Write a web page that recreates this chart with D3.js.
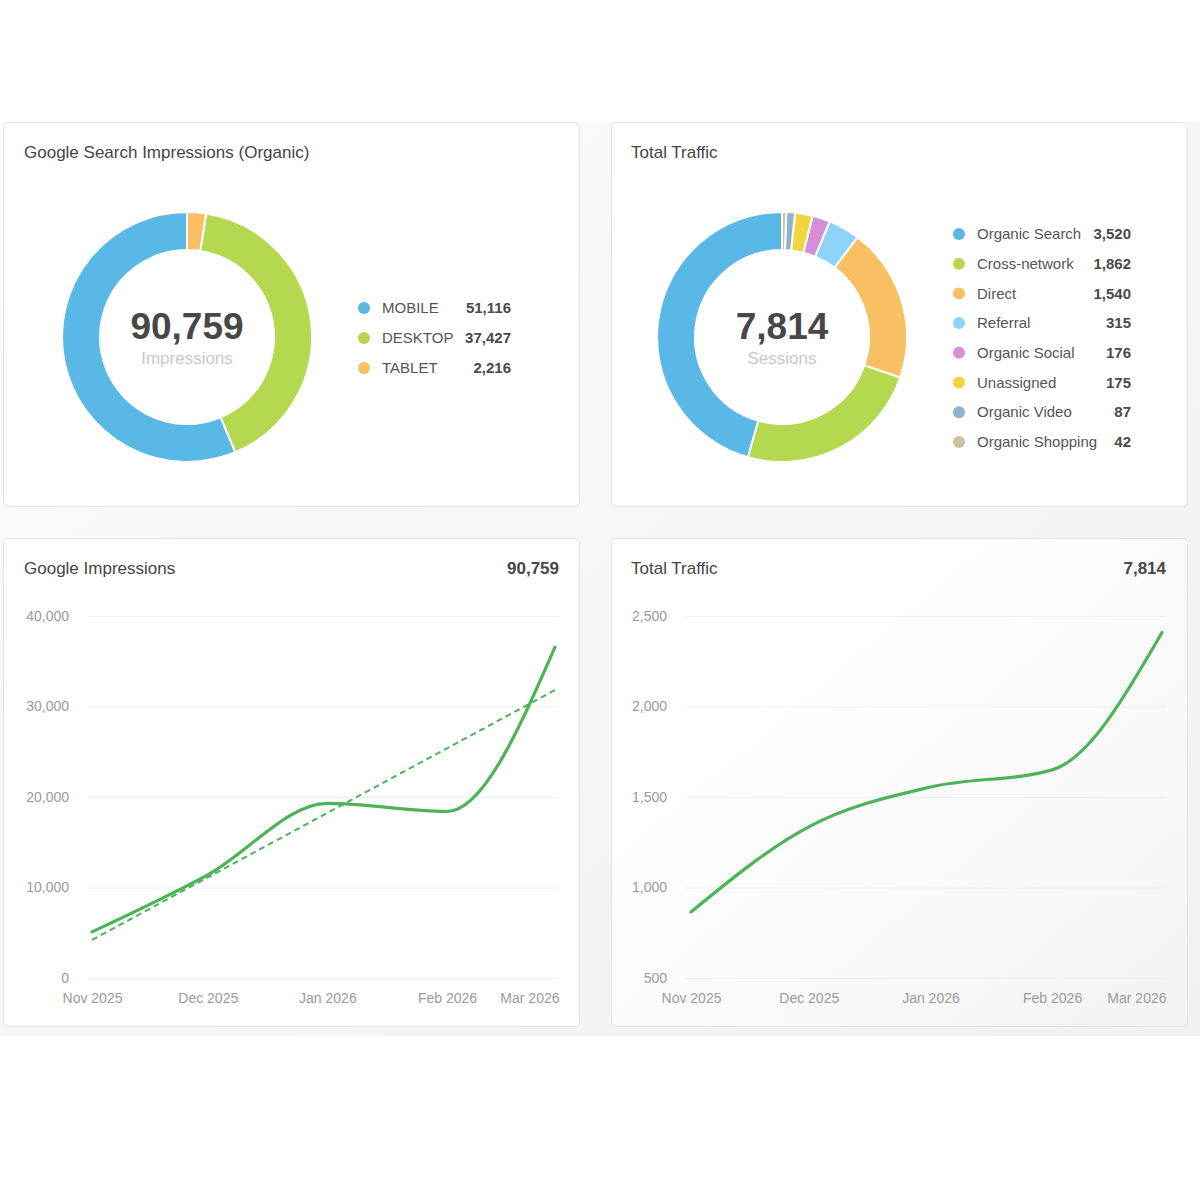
<!DOCTYPE html>
<html>
<head>
<meta charset="utf-8">
<script src="https://cdn.jsdelivr.net/npm/d3@7"></script>
<style>
  body { margin: 0; background: #fff; font-family: "Liberation Sans", Arial, sans-serif; }
  svg text { font-family: "Liberation Sans", Arial, sans-serif; }
</style>
</head>
<body>
<div id="chart"></div>
<script>
// device split (Google Search Impressions, organic)
const deviceNames = ["MOBILE", "DESKTOP", "TABLET"];
const deviceValues = [51116, 37427, 2216];
const deviceColors = ["#5ab8e6", "#b4d951", "#f8bf63"];
const totalImpressions = 90759;

// traffic channels
const channelNames = ["Organic Search", "Cross-network", "Direct", "Referral", "Organic Social", "Unassigned", "Organic Video", "Organic Shopping"];
const channelValues = [3520, 1862, 1540, 315, 176, 175, 87, 42];
const channelColors = ["#5ab8e6", "#b4d951", "#f8bf63", "#8dd3fa", "#d68fd6", "#f2d43f", "#8fb4c9", "#cdc1a3"];
const totalSessions = 7814; // channels don't add up to the reported total

// monthly series
const months = ["2025-11-01", "2025-12-01", "2026-01-01", "2026-02-01", "2026-03-01"];
const monthLabels = ["Nov 2025", "Dec 2025", "Jan 2026", "Feb 2026", "Mar 2026"];
const impressions = [5100, 11400, 19300, 18400, 36559];
const sessions = [865, 1335, 1555, 1650, 2409];
const impressionTicks = [0, 10000, 20000, 30000, 40000];
const sessionTicks = [500, 1000, 1500, 2000, 2500];

const fmt = d3.format(",");
const parseDate = d3.timeParse("%Y-%m-%d");

const svg = d3.select("#chart").append("svg")
    .attr("width", 1200)
    .attr("height", 1200);

const defs = svg.append("defs");
const bg = defs.append("linearGradient")
    .attr("id", "bg-grad")
    .attr("x1", "0%").attr("y1", "0%")
    .attr("x2", "100%").attr("y2", "100%");
bg.append("stop").attr("offset", "0%").attr("stop-color", "#fcfcfd");
bg.append("stop").attr("offset", "100%").attr("stop-color", "#f1f1f3");

const cardGrad = defs.append("linearGradient")
    .attr("id", "card-grad")
    .attr("x1", "30%").attr("y1", "30%")
    .attr("x2", "100%").attr("y2", "100%");
cardGrad.append("stop").attr("offset", "0%").attr("stop-color", "#ffffff");
cardGrad.append("stop").attr("offset", "100%").attr("stop-color", "#f3f3f5");

svg.append("rect")
    .attr("x", 0).attr("y", 122)
    .attr("width", 1200).attr("height", 914)
    .attr("fill", "url(#bg-grad)");

function card(x, y, w, h, fill) {
    svg.append("rect")
        .attr("x", x + 0.5).attr("y", y + 0.5)
        .attr("width", w).attr("height", h)
        .attr("rx", 5)
        .attr("fill", fill || "#fff")
        .attr("stroke", "#e4e4e6");
}

card(3, 122, 576, 384);
card(611, 122, 576, 384);
card(3, 538, 576, 488);
card(611, 538, 576, 488, "url(#card-grad)");

function title(x, y, txt) {
    svg.append("text")
        .attr("x", x).attr("y", y)
        .attr("font-size", 17)
        .attr("fill", "#454545")
        .text(txt);
}

// --- donuts ---
function donut(cx, cy, names, values, colors, total, centerLabel, legendX, legendY, valueX, rowH) {
    const pie = d3.pie().sort(null).startAngle(0).endAngle(-2 * Math.PI);
    const arc = d3.arc().innerRadius(87).outerRadius(125);

    const g = svg.append("g").attr("transform", `translate(${cx}, ${cy})`);
    g.selectAll("path")
        .data(pie(values))
        .join("path")
        .attr("d", arc)
        .attr("fill", (d, i) => colors[i])
        .attr("stroke", "#fff")
        .attr("stroke-width", 2);

    g.append("text")
        .attr("text-anchor", "middle")
        .attr("y", 2)
        .attr("font-size", 37)
        .attr("font-weight", "bold")
        .attr("fill", "#474747")
        .text(fmt(total));
    g.append("text")
        .attr("text-anchor", "middle")
        .attr("y", 27)
        .attr("font-size", 17)
        .attr("fill", "#c8c8c8")
        .text(centerLabel);

    const leg = svg.append("g");
    const rows = leg.selectAll("g")
        .data(names)
        .join("g")
        .attr("transform", (d, i) => `translate(0, ${legendY + i * rowH})`);
    rows.append("circle")
        .attr("cx", legendX).attr("cy", 0).attr("r", 6)
        .attr("fill", (d, i) => colors[i]);
    rows.append("text")
        .attr("x", legendX + 18).attr("dy", "0.35em")
        .attr("font-size", 15)
        .attr("fill", "#555")
        .text(d => d);
    rows.append("text")
        .attr("x", valueX).attr("dy", "0.35em")
        .attr("text-anchor", "end")
        .attr("font-size", 15)
        .attr("font-weight", "bold")
        .attr("fill", "#4a4a4a")
        .text((d, i) => fmt(values[i]));
}

title(24, 158, "Google Search Impressions (Organic)");
donut(187, 337, deviceNames, deviceValues, deviceColors, totalImpressions, "Impressions", 364, 308, 511, 30);

title(631, 158, "Total Traffic");
donut(782, 337, channelNames, channelValues, channelColors, totalSessions, "Sessions", 959, 234, 1131, 29.7);

// --- line charts ---
function lineChart(opts) {
    const dates = months.map(parseDate);
    const data = dates.map((d, i) => ({ date: d, value: opts.values[i] }));

    const x = d3.scaleTime()
        .domain(d3.extent(dates))
        .range([opts.x0, opts.x1]);
    const y = d3.scaleLinear()
        .domain(d3.extent(opts.ticks))
        .range([978, 616]);

    title(opts.titleX, 574, opts.title);
    svg.append("text")
        .attr("x", opts.gridR).attr("y", 574)
        .attr("text-anchor", "end")
        .attr("font-size", 17)
        .attr("font-weight", "bold")
        .attr("fill", "#474747")
        .text(fmt(d3.sum(opts.values)));

    // y axis + grid
    const yAxis = svg.append("g")
        .attr("transform", `translate(${opts.gridL}, 0)`)
        .call(d3.axisLeft(y)
            .tickValues(opts.ticks)
            .tickSize(-(opts.gridR - opts.gridL))
            .tickPadding(19)
            .tickFormat(fmt));
    yAxis.select(".domain").remove();
    yAxis.selectAll(".tick line").attr("stroke", "#f0f0f1");
    yAxis.selectAll(".tick text")
        .attr("font-size", 14)
        .attr("fill", "#9a9a9a");

    // x axis labels
    const xAxis = svg.append("g")
        .attr("transform", `translate(0, 978)`)
        .call(d3.axisBottom(x)
            .tickValues(dates)
            .tickSize(0)
            .tickPadding(15)
            .tickFormat((d, i) => monthLabels[i]));
    xAxis.select(".domain").remove();
    xAxis.selectAll(".tick text")
        .attr("font-size", 14)
        .attr("fill", "#9a9a9a");
    xAxis.selectAll(".tick text")
        .filter((d, i) => i === dates.length - 1)
        .attr("text-anchor", "end")
        .attr("x", opts.gridR - opts.x1);

    const line = d3.line()
        .x(d => x(d.date))
        .y(d => y(d.value))
        .curve(d3.curveMonotoneX);

    if (opts.trend) {
        // least squares trend over days
        const t = data.map(d => (d.date - dates[0]) / 864e5);
        const mt = d3.mean(t), mv = d3.mean(opts.values);
        const slope = d3.sum(t, (v, i) => (v - mt) * (opts.values[i] - mv)) / d3.sum(t, v => (v - mt) ** 2);
        const icpt = mv - slope * mt;
        const ends = [dates[0], dates[dates.length - 1]].map(d => ({
            date: d, value: icpt + slope * (d - dates[0]) / 864e5
        }));
        svg.append("path")
            .datum(ends)
            .attr("d", d3.line().x(d => x(d.date)).y(d => y(d.value)))
            .attr("fill", "none")
            .attr("stroke", "#4cb357")
            .attr("stroke-width", 2)
            .attr("stroke-dasharray", "6,4");
    }

    svg.append("path")
        .datum(data)
        .attr("d", line)
        .attr("fill", "none")
        .attr("stroke", "#4cb357")
        .attr("stroke-width", 3.2)
        .attr("stroke-linecap", "round");
}

lineChart({
    title: "Google Impressions", titleX: 24,
    values: impressions, ticks: impressionTicks,
    gridL: 88, gridR: 559, x0: 92, x1: 555, trend: true
});

lineChart({
    title: "Total Traffic", titleX: 631,
    values: sessions, ticks: sessionTicks,
    gridL: 686, gridR: 1166, x0: 691, x1: 1162, trend: false
});
</script>
</body>
</html>
